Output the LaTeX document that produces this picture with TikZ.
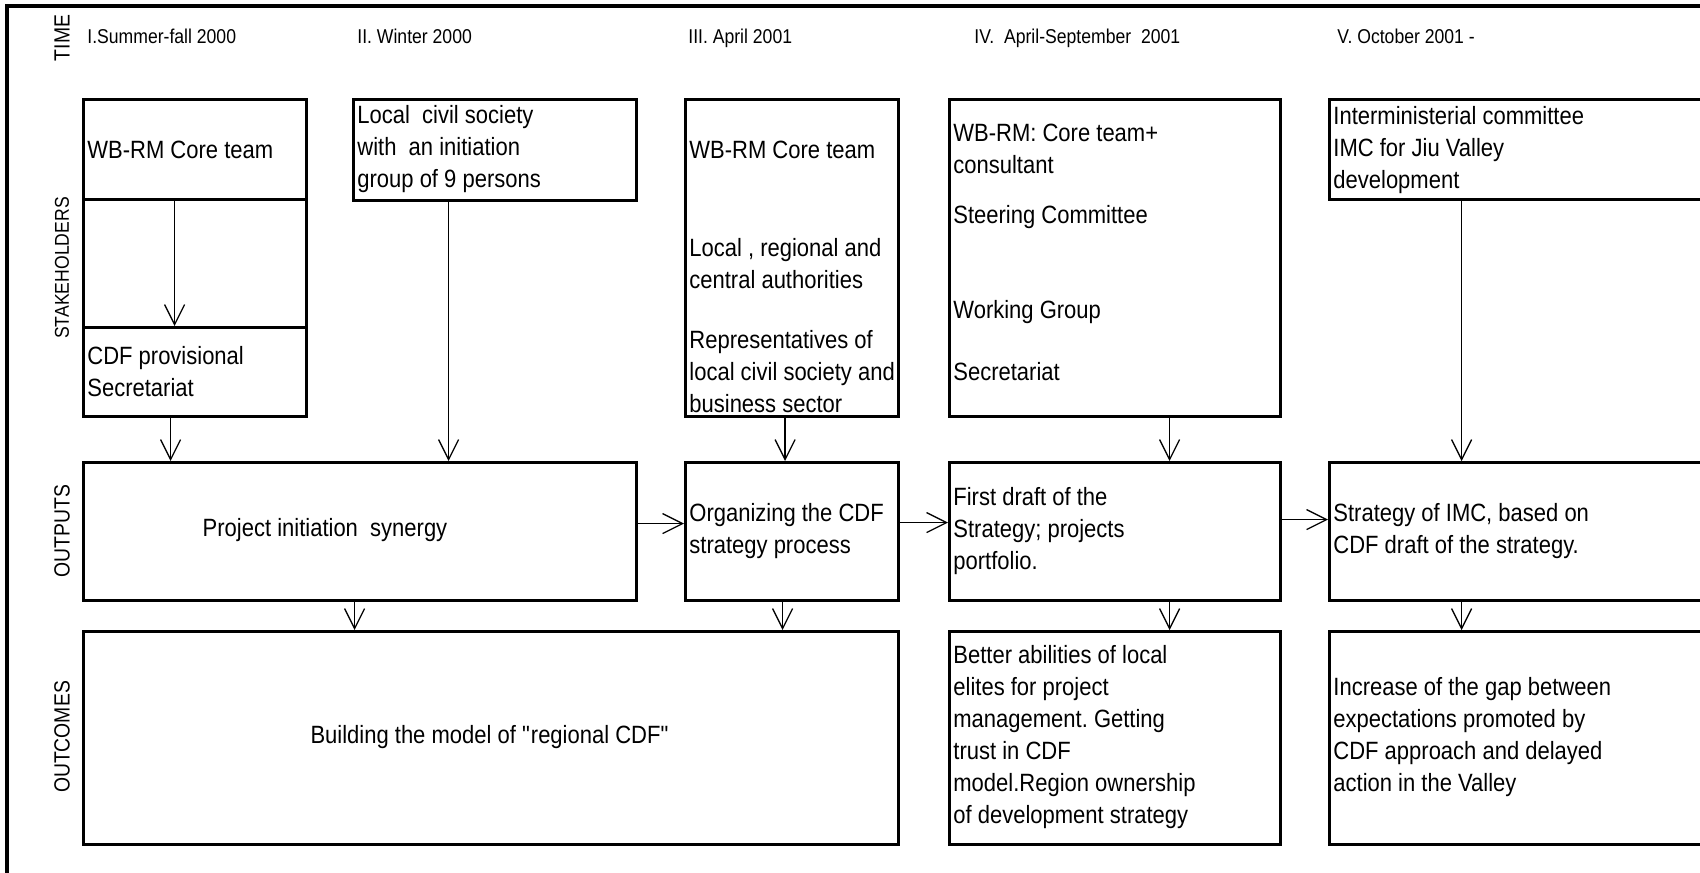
\documentclass[tikz,border=0pt]{standalone}
\usepackage{fontspec}
\setmainfont{Liberation Sans}[FakeStretch=0.88]
\usetikzlibrary{arrows.meta}
\frenchspacing

\begin{document}
\begin{tikzpicture}[x=0.5pt,y=-0.5pt,>={Straight Barb[length=10pt,width=10pt]},
  box/.style 2 args={draw,line width=1.6pt,rectangle,anchor=north west,inner sep=0pt,
    minimum width=#1,minimum height=#2},
  txt/.style={anchor=west,inner sep=0pt,align=left,font=\fontsize{12.5}{16}\selectfont},
  phase/.style={anchor=base west,inner sep=0pt,font=\fontsize{10}{12}\selectfont},
  row/.style={rotate=90,inner sep=0pt,font=\fontsize{11}{13}\selectfont},
  arr/.style={->,line width=0.65pt}]

  \path[use as bounding box,clip] (0,0) rectangle (1700,872);
  \draw[line width=1.6pt] (7,6) rectangle (1760,920);

  % rows
  \node[row] (ltime) at (62,38) {TIME};
  \node[row,font=\fontsize{10}{12}\selectfont] (lstake) at (62,268) {STAKEHOLDERS};
  \node[row] (lout) at (62,531) {OUTPUTS};
  \node[row] (lcome) at (62,737) {OUTCOMES};

  % phases
  \node[phase] (p1) at (87,44) {I.Summer-fall 2000};
  \node[phase] (p2) at (357,44) {II. Winter 2000};
  \node[phase] (p3) at (688,44) {III. April 2001};
  \node[phase] (p4) at (974,44) {IV.\ \ April-September\ \ 2001};
  \node[phase] (p5) at (1337,44) {V. October 2001 -};

  % stakeholders
  \node[box={111.5pt}{50pt}] (core1) at (82,98) {};
  \node[box={111.5pt}{64pt}] (mid1) at (82,198) {};
  \node[box={111.5pt}{44.5pt}] (sec1) at (82,326) {};
  \node[box={141.5pt}{50.5pt}] (civil) at (352,98) {};
  \node[box={106.5pt}{158.5pt}] (auth) at (684,98) {};
  \node[box={165.5pt}{158.5pt}] (steer) at (948,98) {};
  \node[box={196pt}{50pt}] (imc) at (1328,98) {};

  \node[txt] (tcore1) at (87,150) {WB-RM Core team};
  \node[txt] (tsec1) at (87,372) {CDF provisional\\Secretariat};
  \node[txt] (tcivil) at (357,149.5) {Local\ \ civil society\\with\ \ an initiation\\group of 9 persons};
  \node[txt] (tauth1) at (689,150) {WB-RM Core team};
  \node[txt] (tauth2) at (689,263.5) {Local , regional and\\central authorities};
  \node[txt] (tauth3) at (689,372) {Representatives of\\local civil society and\\business sector};
  \node[txt] (tsteer1) at (953,149) {WB-RM: Core team+\\consultant};
  \node[txt] (tsteer2) at (953,217) {Steering Committee};
  \node[txt] (tsteer3) at (953,312) {Working Group};
  \node[txt] (tsteer4) at (953,372) {Secretariat};
  \node[txt] (timc) at (1333,150) {Interministerial committee\\IMC for Jiu Valley\\development};

  % outputs
  \node[box={276.5pt}{69pt}] (o1) at (82,461) {};
  \node[box={106.5pt}{69pt}] (o2) at (684,461) {};
  \node[box={165.5pt}{69pt}] (o3) at (948,461) {};
  \node[box={196pt}{69pt}] (o4) at (1328,461) {};

  \node[txt,anchor=center] (to1) at (325,530) {Project initiation\ \ synergy};
  \node[txt] (to2) at (689,531) {Organizing the CDF\\strategy process};
  \node[txt] (to3) at (953,531) {First draft of the\\Strategy; projects\\portfolio.};
  \node[txt] (to4) at (1333,531) {Strategy of IMC, based on\\CDF draft of the strategy.};

  % outcomes
  \node[box={407.5pt}{106.5pt}] (r1) at (82,630) {};
  \node[box={165.5pt}{106.5pt}] (r2) at (948,630) {};
  \node[box={196pt}{106.5pt}] (r3) at (1328,630) {};

  \node[txt,anchor=center] (tr1) at (490,737) {Building the model of \textquotedbl regional CDF\textquotedbl};
  \node[txt] (tr2) at (953,737.5) {Better abilities of local\\elites for project\\management. Getting\\trust in CDF\\model.Region ownership\\of development strategy};
  \node[txt] (tr3) at (1333,737.5) {Increase of the gap between\\expectations promoted by\\CDF approach and delayed\\action in the Valley};

  % arrows
  \draw[arr] ([xshift=-10.25pt]core1.south) -- ([xshift=-10.25pt]core1.south |- sec1.north);
  \draw[arr] ([xshift=-12.25pt]sec1.south) -- ([xshift=-12.25pt]sec1.south |- o1.north);
  \draw[arr] ([xshift=-23.25pt]civil.south) -- ([xshift=-23.25pt]civil.south |- o1.north);
  \draw[arr] ([xshift=-3.5pt]auth.south) -- ([xshift=-3.5pt]auth.south |- o2.north);
  \draw[arr] ([xshift=27.25pt]steer.south) -- ([xshift=27.25pt]steer.south |- o3.north);
  \draw[arr] ([xshift=-32pt]imc.south) -- ([xshift=-32pt]imc.south |- o4.north);

  \draw[arr] ([yshift=4pt]o1.east) -- ([yshift=4pt]o1.east -| o2.west);
  \draw[arr] ([yshift=4.5pt]o2.east) -- ([yshift=4.5pt]o2.east -| o3.west);
  \draw[arr] ([yshift=6pt]o3.east) -- ([yshift=6pt]o3.east -| o4.west);

  \draw[arr] ([xshift=-2.75pt]o1.south) -- ([xshift=-2.75pt]o1.south |- r1.north);
  \draw[arr] ([xshift=-4.75pt]o2.south) -- ([xshift=-4.75pt]o2.south |- r1.north);
  \draw[arr] ([xshift=27.25pt]o3.south) -- ([xshift=27.25pt]o3.south |- r2.north);
  \draw[arr] ([xshift=-32pt]o4.south) -- ([xshift=-32pt]o4.south |- r3.north);
\end{tikzpicture}
\end{document}
